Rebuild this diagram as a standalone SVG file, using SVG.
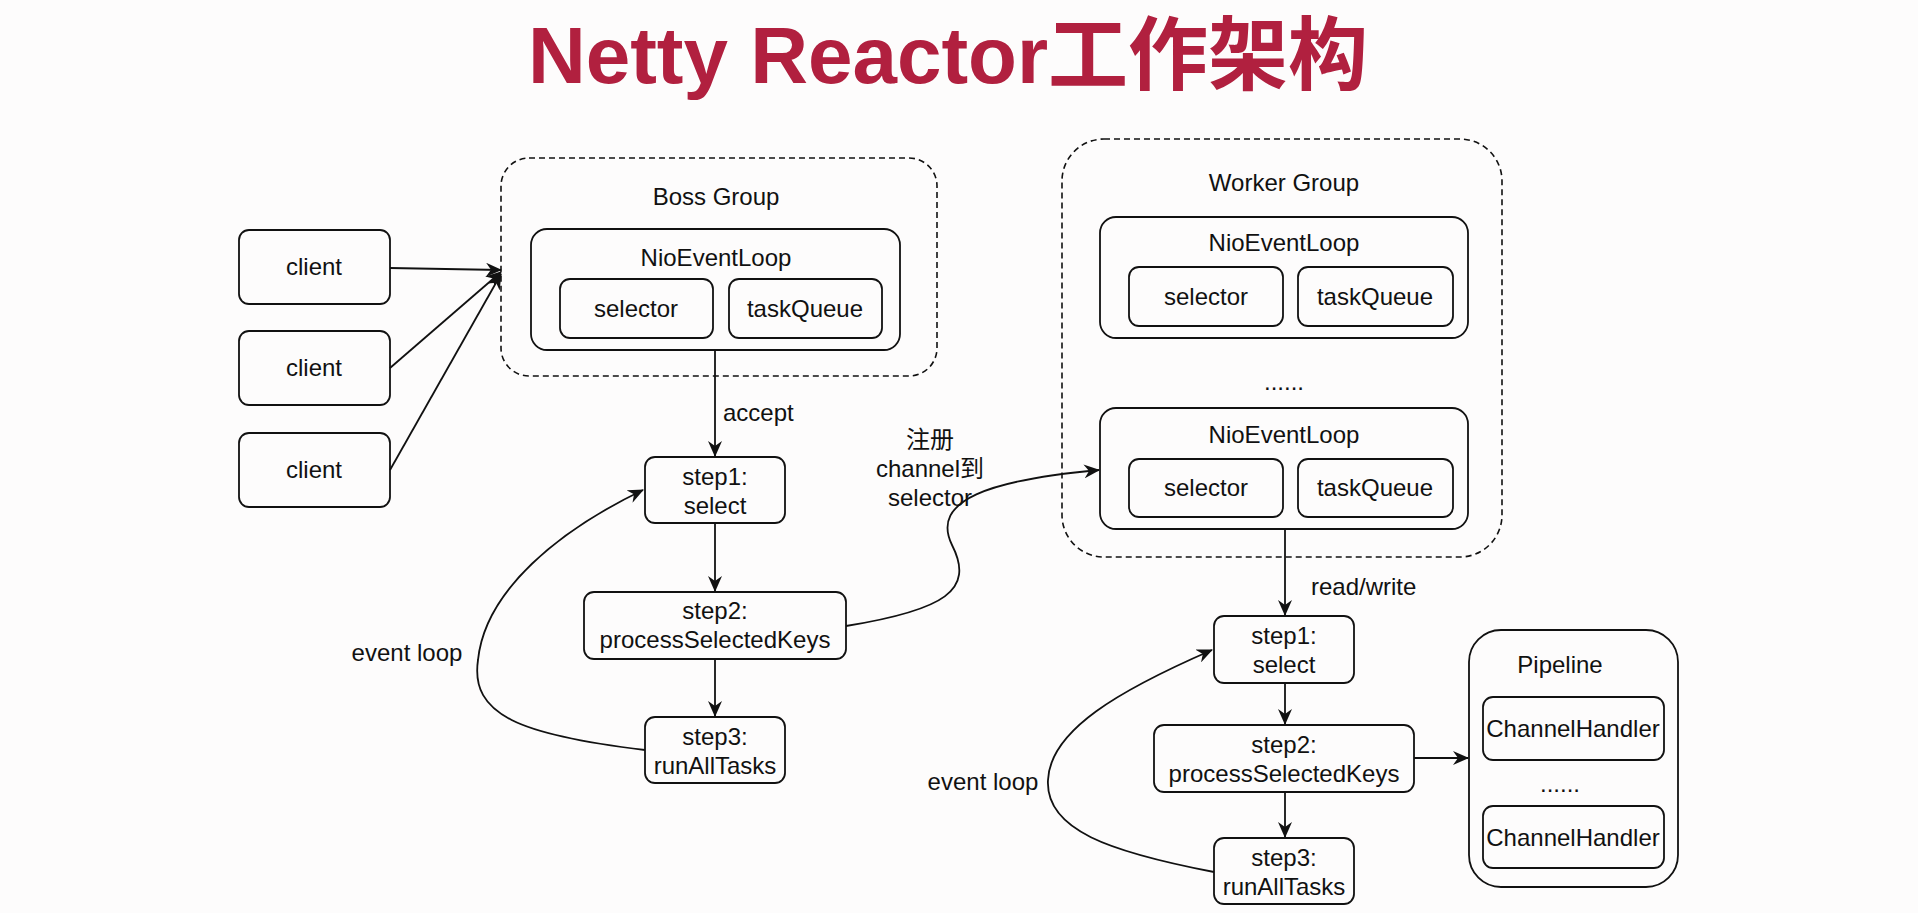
<svg xmlns="http://www.w3.org/2000/svg" width="1918" height="913" viewBox="0 0 1918 913">
<style>
.bg{fill:#fdfcfc}
.box{fill:none;stroke:#111;stroke-width:1.8}
.dash{fill:none;stroke:#111;stroke-width:1.6;stroke-dasharray:6 4}
.t{font-family:"Liberation Sans","Noto Sans CJK SC",sans-serif;font-size:24px;fill:#111;text-anchor:middle}
.l{text-anchor:start}
.edge{fill:none;stroke:#111;stroke-width:1.8}
.title{font-family:"Liberation Sans","Noto Sans CJK SC",sans-serif;font-size:80px;font-weight:bold;fill:#b1203f;text-anchor:middle}
</style>
<defs>
<marker id="arr" markerUnits="userSpaceOnUse" markerWidth="18" markerHeight="14" refX="15" refY="7" orient="auto">
<path d="M0,0 L16,7 L0,14 L5,7 z" fill="#111"/>
</marker>
</defs>
<rect class="bg" x="0" y="0" width="1918" height="913"/>
<text class="title" x="948" y="83">Netty Reactor工作架构</text>

<g id="boss-group">
<rect class="dash" x="501" y="158" width="436" height="218" rx="28"/>
<text class="t" x="716" y="205">Boss Group</text>
</g>
<g id="boss-nioeventloop">
<rect class="box" x="531" y="229" width="369" height="121" rx="16"/>
<text class="t" x="716" y="266">NioEventLoop</text>
</g>
<g id="boss-selector">
<rect class="box" x="560" y="279" width="153" height="59" rx="10"/>
<text class="t" x="636" y="317">selector</text>
</g>
<g id="boss-taskqueue">
<rect class="box" x="729" y="279" width="153" height="59" rx="10"/>
<text class="t" x="805" y="317">taskQueue</text>
</g>

<g id="client1">
<rect class="box" x="239" y="230" width="151" height="74" rx="10"/>
<text class="t" x="314" y="275">client</text>
</g>
<g id="client2">
<rect class="box" x="239" y="331" width="151" height="74" rx="10"/>
<text class="t" x="314" y="376">client</text>
</g>
<g id="client3">
<rect class="box" x="239" y="433" width="151" height="74" rx="10"/>
<text class="t" x="314" y="478">client</text>
</g>

<g id="boss-step1">
<rect class="box" x="645" y="457" width="140" height="66" rx="10"/>
<text class="t" x="715" y="485">step1:</text>
<text class="t" x="715" y="514">select</text>
</g>
<g id="boss-step2">
<rect class="box" x="584" y="592" width="262" height="67" rx="10"/>
<text class="t" x="715" y="619">step2:</text>
<text class="t" x="715" y="648">processSelectedKeys</text>
</g>
<g id="boss-step3">
<rect class="box" x="645" y="717" width="140" height="66" rx="10"/>
<text class="t" x="715" y="745">step3:</text>
<text class="t" x="715" y="774">runAllTasks</text>
</g>

<g id="worker-group">
<rect class="dash" x="1062" y="139" width="440" height="418" rx="42"/>
<text class="t" x="1284" y="191">Worker Group</text>
<text class="t" x="1284" y="390">......</text>
</g>
<g id="worker-nioeventloop1">
<rect class="box" x="1100" y="217" width="368" height="121" rx="16"/>
<text class="t" x="1284" y="251">NioEventLoop</text>
</g>
<g id="worker-selector1">
<rect class="box" x="1129" y="267" width="154" height="59" rx="10"/>
<text class="t" x="1206" y="305">selector</text>
</g>
<g id="worker-taskqueue1">
<rect class="box" x="1298" y="267" width="155" height="59" rx="10"/>
<text class="t" x="1375" y="305">taskQueue</text>
</g>
<g id="worker-nioeventloop2">
<rect class="box" x="1100" y="408" width="368" height="121" rx="16"/>
<text class="t" x="1284" y="443">NioEventLoop</text>
</g>
<g id="worker-selector2">
<rect class="box" x="1129" y="459" width="154" height="58" rx="10"/>
<text class="t" x="1206" y="496">selector</text>
</g>
<g id="worker-taskqueue2">
<rect class="box" x="1298" y="459" width="155" height="58" rx="10"/>
<text class="t" x="1375" y="496">taskQueue</text>
</g>

<g id="worker-step1">
<rect class="box" x="1214" y="616" width="140" height="67" rx="10"/>
<text class="t" x="1284" y="644">step1:</text>
<text class="t" x="1284" y="673">select</text>
</g>
<g id="worker-step2">
<rect class="box" x="1154" y="725" width="260" height="67" rx="10"/>
<text class="t" x="1284" y="753">step2:</text>
<text class="t" x="1284" y="782">processSelectedKeys</text>
</g>
<g id="worker-step3">
<rect class="box" x="1214" y="838" width="140" height="66" rx="10"/>
<text class="t" x="1284" y="866">step3:</text>
<text class="t" x="1284" y="895">runAllTasks</text>
</g>

<g id="pipeline">
<rect class="box" x="1469" y="630" width="209" height="257" rx="32"/>
<text class="t" x="1560" y="673">Pipeline</text>
<text class="t" x="1560" y="792">......</text>
</g>
<g id="channelhandler1">
<rect class="box" x="1483" y="697" width="181" height="63" rx="10"/>
<text class="t" x="1573" y="737">ChannelHandler</text>
</g>
<g id="channelhandler2">
<rect class="box" x="1483" y="806" width="181" height="62" rx="10"/>
<text class="t" x="1573" y="846">ChannelHandler</text>
</g>

<g id="connectors">
<line class="edge" x1="390" y1="268" x2="501" y2="270" marker-end="url(#arr)"/>
<line class="edge" x1="390" y1="368" x2="501" y2="272" marker-end="url(#arr)"/>
<line class="edge" x1="390" y1="470" x2="501" y2="274" marker-end="url(#arr)"/>
<line class="edge" x1="715" y1="350" x2="715" y2="456" marker-end="url(#arr)"/>
<text class="t l" x="723" y="421">accept</text>
<line class="edge" x1="715" y1="523" x2="715" y2="591" marker-end="url(#arr)"/>
<line class="edge" x1="715" y1="659" x2="715" y2="716" marker-end="url(#arr)"/>
<path class="edge" d="M645,750 C520,735 470,715 478,660 C485,590 560,530 643,490" marker-end="url(#arr)"/>
<text class="t" x="407" y="661">event loop</text>
<path class="edge" d="M846,626 C945,610 975,590 952,545 C930,500 990,480 1099,470" marker-end="url(#arr)"/>
<text class="t" x="930" y="448">注册</text>
<text class="t" x="930" y="477">channel到</text>
<text class="t" x="930" y="506">selector</text>
<line class="edge" x1="1285" y1="529" x2="1285" y2="615" marker-end="url(#arr)"/>
<text class="t l" x="1311" y="595">read/write</text>
<line class="edge" x1="1285" y1="683" x2="1285" y2="724" marker-end="url(#arr)"/>
<line class="edge" x1="1285" y1="792" x2="1285" y2="837" marker-end="url(#arr)"/>
<line class="edge" x1="1414" y1="758" x2="1468" y2="758" marker-end="url(#arr)"/>
<path class="edge" d="M1214,872 C1110,852 1045,830 1048,780 C1050,730 1120,690 1212,650" marker-end="url(#arr)"/>
<text class="t" x="983" y="790">event loop</text>
</g>
</svg>
